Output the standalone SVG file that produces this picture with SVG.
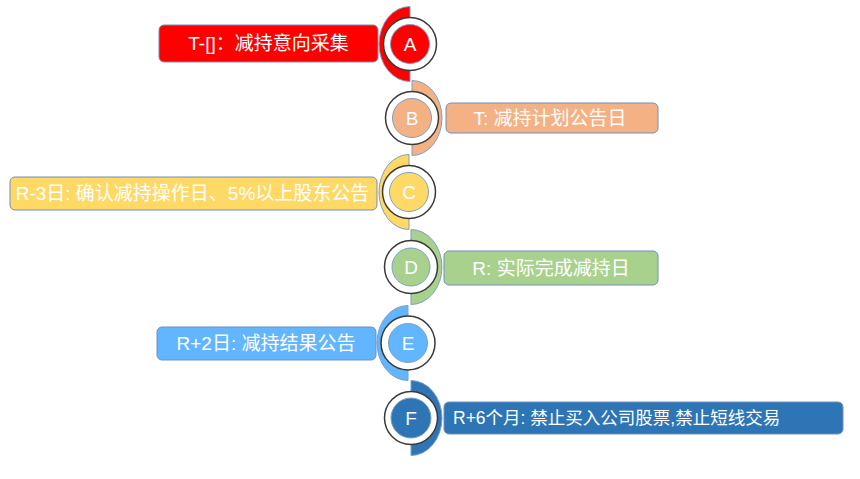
<svg xmlns="http://www.w3.org/2000/svg" width="860" height="479" viewBox="0 0 860 479">
<style>
.ring{fill:#fff;stroke:#3a3a3a;stroke-width:1.5}
.in{stroke:#7f9fc5;stroke-width:1}
.cr{stroke:#7f9fc5;stroke-width:1}
.box{stroke:#6f90bd;stroke-width:1}
.t{font-family:"Liberation Sans","Noto Sans CJK SC",sans-serif;fill:#fff;font-size:19px;dominant-baseline:central}
.l{font-family:"Liberation Sans",sans-serif;fill:#fff;font-size:19px;text-anchor:middle;dominant-baseline:central}
</style>
<rect width="860" height="479" fill="#fff"/>
<g id="nodeA">
<path class="cr" d="M410,6.5 A31 37.5 0 0 0 410,81.5 Z" fill="#ff0000"/>
<rect class="box" x="159" y="25" width="219" height="37" rx="5" fill="#ff0000"/>
<text class="t" x="268.5" y="43.5" text-anchor="middle">T-[]：减持意向采集</text>
<circle class="ring" cx="410" cy="44" r="26.5"/>
<circle class="in" cx="410" cy="44" r="19.5" fill="#ff0000"/>
<text class="l" x="410" y="44">A</text>
</g>
<g id="nodeB">
<path class="cr" d="M412,80.5 A30 37.5 0 0 1 412,155.5 Z" fill="#f4b183"/>
<rect class="box" x="446" y="103" width="212" height="30" rx="5" fill="#f4b183"/>
<text class="t" x="550" y="118" text-anchor="middle">T:  减持计划公告日</text>
<circle class="ring" cx="412" cy="118" r="26.5"/>
<circle class="in" cx="412" cy="118" r="19.5" fill="#f4b183"/>
<text class="l" x="412" y="118">B</text>
</g>
<g id="nodeC">
<path class="cr" d="M409,154.5 A30 37.5 0 0 0 409,229.5 Z" fill="#ffd966"/>
<rect class="box" x="10" y="177" width="367" height="33" rx="5" fill="#ffd966"/>
<text class="t" x="192.5" y="193.5" text-anchor="middle">R-3日: 确认减持操作日、5%以上股东公告</text>
<circle class="ring" cx="409" cy="192" r="26.5"/>
<circle class="in" cx="409" cy="192" r="19.5" fill="#ffd966"/>
<text class="l" x="409" y="192">C</text>
</g>
<g id="nodeD">
<path class="cr" d="M411,229.5 A31 37.5 0 0 1 411,304.5 Z" fill="#a9d18e"/>
<rect class="box" x="444" y="251" width="214" height="34" rx="5" fill="#a9d18e"/>
<text class="t" x="551" y="268" text-anchor="middle">R: 实际完成减持日</text>
<circle class="ring" cx="411" cy="267" r="26.5"/>
<circle class="in" cx="411" cy="267" r="19" fill="#a9d18e"/>
<text class="l" x="411" y="267">D</text>
</g>
<g id="nodeE">
<path class="cr" d="M408,305.5 A31 37.5 0 0 0 408,380.5 Z" fill="#62b5ff"/>
<rect class="box" x="157" y="327" width="219" height="33" rx="5" fill="#62b5ff"/>
<text class="t" x="266" y="343.5" text-anchor="middle">R+2日: 减持结果公告</text>
<circle class="ring" cx="408" cy="343" r="27"/>
<circle class="in" cx="408" cy="343" r="19.5" fill="#62b5ff"/>
<text class="l" x="408" y="343">E</text>
</g>
<g id="nodeF">
<path class="cr" d="M411,380.5 A31 37.5 0 0 1 411,455.5 Z" fill="#2e75b6"/>
<rect class="box" x="444" y="402" width="399" height="32" rx="5" fill="#2e75b6"/>
<text class="t" x="453" y="418" style="font-size:17.5px">R+6个月: 禁止买入公司股票,禁止短线交易</text>
<circle class="ring" cx="411" cy="418" r="26.5"/>
<circle class="in" cx="411" cy="418" r="20" fill="#2e75b6"/>
<text class="l" x="411" y="418">F</text>
</g>
</svg>
